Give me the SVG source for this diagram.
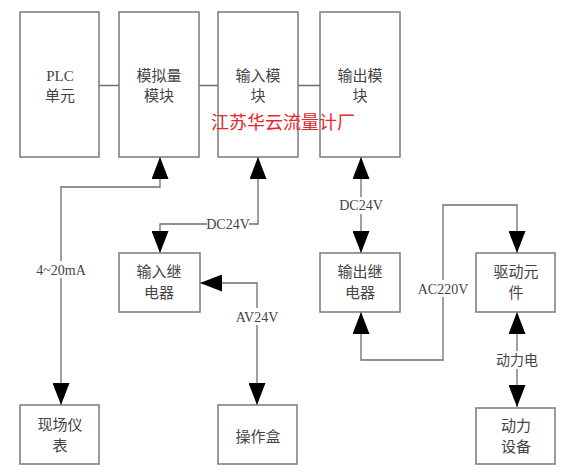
<svg xmlns="http://www.w3.org/2000/svg" width="583" height="476" viewBox="0 0 583 476">
<defs>
<marker id="ah" markerUnits="userSpaceOnUse" markerWidth="22" markerHeight="17" refX="22" refY="8.5" orient="auto-start-reverse" viewBox="0 0 22 17">
<path d="M0,0 L22,8.5 L0,17 Z" fill="#000"/>
</marker>
<style>
.box{fill:#fff;stroke:#7a7a7a;stroke-width:1.5}
.t{font-family:"Liberation Serif","Noto Sans CJK SC",serif;font-size:15px;fill:#444;text-anchor:middle}
.ln{fill:none;stroke:#6e6e6e;stroke-width:1.3}
.lbl{font-family:"Liberation Serif","Noto Sans CJK SC",serif;font-size:14px;fill:#444;text-anchor:middle}
</style>
</defs>
<rect width="583" height="476" fill="#fff"/>
<g id="connectors">
<path class="ln" d="M99,85.5 H119 M199,85.5 H218 M298,85.5 H320"/>
<path class="ln" d="M160,157 V187 H61 V405" marker-start="url(#ah)" marker-end="url(#ah)"/>
<path class="ln" d="M258,157 V224 H160 V253" marker-start="url(#ah)" marker-end="url(#ah)"/>
<path class="ln" d="M200,283 H257 V405" marker-start="url(#ah)" marker-end="url(#ah)"/>
<path class="ln" d="M361,157 V253" marker-start="url(#ah)" marker-end="url(#ah)"/>
<path class="ln" d="M361,312 V360 H443 V205 H517 V253" marker-start="url(#ah)" marker-end="url(#ah)"/>
<path class="ln" d="M517,312 V407" marker-start="url(#ah)" marker-end="url(#ah)"/>
<rect x="36" y="261" width="50" height="17" fill="#fff"/>
<text class="lbl" x="61" y="275">4~20mA</text>
<rect x="207" y="216" width="42" height="16" fill="#fff"/>
<text class="lbl" x="228" y="229">DC24V</text>
<rect x="235" y="308" width="44" height="17" fill="#fff"/>
<text class="lbl" x="257" y="322">AV24V</text>
<rect x="339" y="197" width="44" height="17" fill="#fff"/>
<text class="lbl" x="361" y="210">DC24V</text>
<rect x="416" y="280" width="54" height="17" fill="#fff"/>
<text class="lbl" x="443" y="294">AC220V</text>
<rect x="493" y="351" width="48" height="18" fill="#fff"/>
<text class="lbl" x="517" y="365">动力电</text>
</g>
<g id="plc"><rect class="box" x="20" y="12" width="79" height="145"/><text class="t" x="60" y="81">PLC</text><text class="t" x="60" y="101">单元</text></g>
<g id="analog"><rect class="box" x="119" y="12" width="80" height="145"/><text class="t" x="159" y="81">模拟量</text><text class="t" x="159" y="101">模块</text></g>
<g id="input"><rect class="box" x="218" y="12" width="80" height="145"/><text class="t" x="258" y="81">输入模</text><text class="t" x="258" y="101">块</text></g>
<g id="output"><rect class="box" x="320" y="12" width="80" height="145"/><text class="t" x="360" y="81">输出模</text><text class="t" x="360" y="101">块</text></g>
<g id="inrelay"><rect class="box" x="119" y="253" width="81" height="59"/><text class="t" x="159" y="277">输入继</text><text class="t" x="159" y="298">电器</text></g>
<g id="outrelay"><rect class="box" x="320" y="253" width="80" height="59"/><text class="t" x="360" y="277">输出继</text><text class="t" x="360" y="298">电器</text></g>
<g id="driver"><rect class="box" x="476" y="253" width="79" height="59"/><text class="t" x="516" y="277">驱动元</text><text class="t" x="516" y="298">件</text></g>
<g id="field"><rect class="box" x="20" y="405" width="79" height="59"/><text class="t" x="60" y="430">现场仪</text><text class="t" x="60" y="451">表</text></g>
<g id="opbox"><rect class="box" x="218" y="405" width="79" height="59"/><text class="t" x="258" y="442">操作盒</text></g>
<g id="power"><rect class="box" x="476" y="408" width="79" height="56"/><text class="t" x="516" y="431">动力</text><text class="t" x="516" y="452">设备</text></g>
<text x="283" y="129" font-family="Liberation Serif, Noto Sans CJK SC, serif" font-size="18" fill="#e8262e" text-anchor="middle">江苏华云流量计厂</text>
</svg>
